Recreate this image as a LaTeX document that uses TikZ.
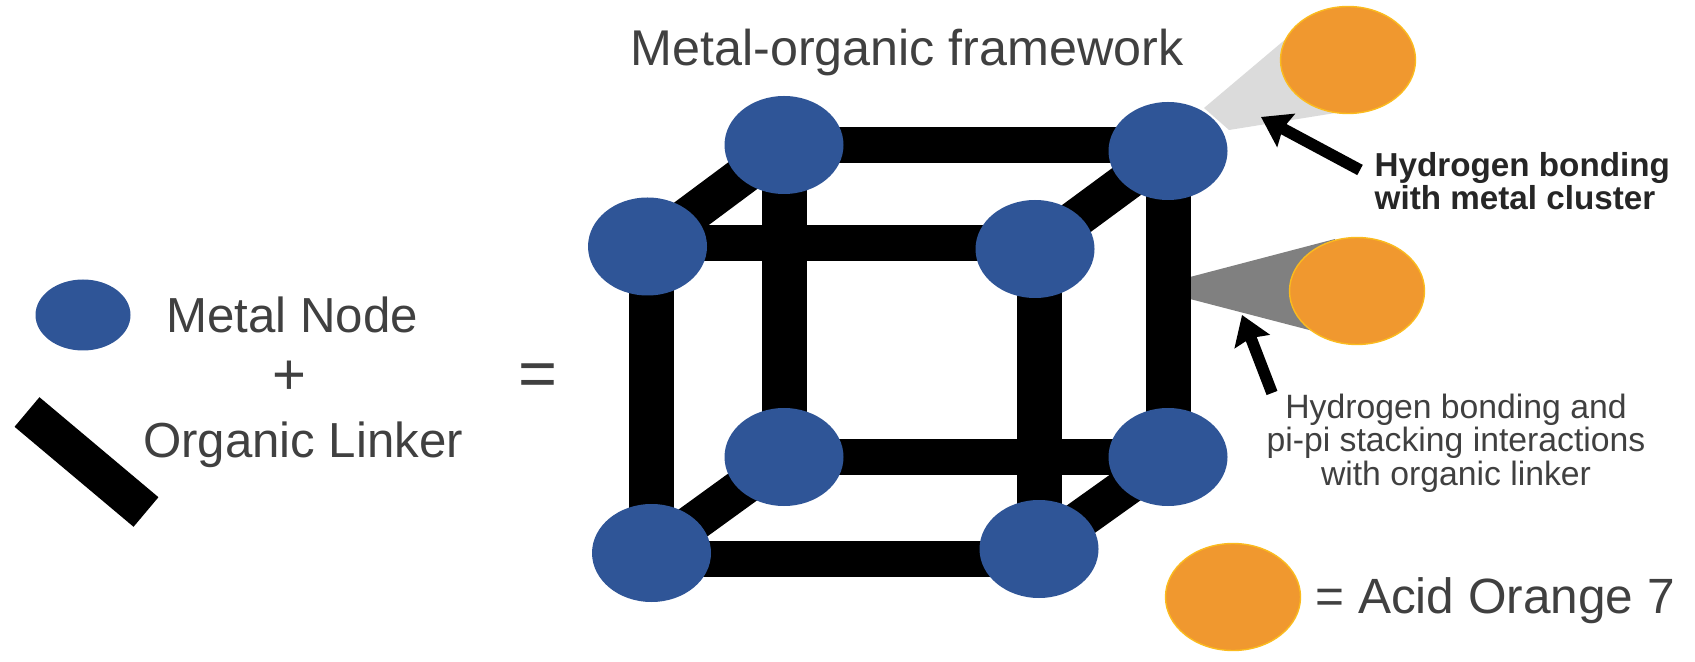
\documentclass[tikz,border=0pt]{standalone}
\usepackage{fontspec}
\setmainfont{Liberation Sans}
\usetikzlibrary{arrows.meta, backgrounds, shapes.geometric}

\definecolor{nodeblue}{HTML}{2F5597}
\definecolor{dyeorange}{HTML}{F0982F}
\definecolor{dyeedge}{HTML}{FBBB1E}
\definecolor{labelgray}{HTML}{404040}

\begin{document}
\begin{tikzpicture}[
		m/.style = {ellipse, fill=nodeblue, inner sep=0, minimum width=1.19cm, minimum height=0.98cm},
		d/.style = {ellipse, fill=dyeorange, draw=dyeedge, thin, inner sep=0, minimum width=1.35cm, minimum height=1.07cm},
		t/.style = {text=labelgray, font=\fontsize{14}{16}\selectfont},
		o/.style = {text=labelgray, font=\fontsize{19}{21}\selectfont},
		h/.style = {line width=10pt},
		v/.style = {line width=12.8pt},
		k/.style = {line width=11pt},
		p/.style = {-{Stealth[length=8pt, width=10.5pt, inset=1pt]}, line width=3.3pt}
		]
		\useasboundingbox (0, 0) rectangle (16.95, 6.61);
		
		% === === Nodes === ===
		\node[m]	(btl)	at	(7.84, 5.16)	{};
		\node[m]	(btr)	at	(11.68, 5.10)	{};
		\node[m]	(ftl)	at	(6.475, 4.145)	{};
		\node[m]	(ftr)	at	(10.35, 4.12)	{};
		\node[m]	(bbl)	at	(7.84, 2.04)	{};
		\node[m]	(bbr)	at	(11.68, 2.04)	{};
		\node[m]	(fbl)	at	(6.515, 1.08)	{};
		\node[m]	(fbr)	at	(10.39, 1.12)	{};
		
		\node[d]	(dye1)	at	(13.48, 6.01)	{};
		\node[d]	(dye2)	at	(13.57, 3.70)	{};
		\node[d]	(dye3)	at	(12.33, 0.64)	{};
		
		\node[m, minimum width=0.95cm, minimum height=0.71cm]	(metal)	at	(0.83, 3.46)	{};
		\coordinate	(link1)	at	(0.27, 2.49);
		\coordinate	(link2)	at	(1.46, 1.49);
		
		% === === Labels === ===
		\node[t]	(lmetal)	at	(2.92, 3.46)	{Metal Node};
		\node[o, font=\fontsize{16.5}{18}\selectfont]	(lplus)		at	(2.89, 2.83)	{+};
		\node[t]	(llinker)	at	(3.03, 2.16)	{Organic Linker};
		\node[o]	(lequal)	at	(5.375, 2.81)	{=};
		\node[t, font=\fontsize{14.3}{16}\selectfont]	(ltitle)	at	(9.07, 6.08)	{Metal-organic framework};
		\node[t, anchor=west, font=\fontsize{14.1}{16}\selectfont]	(lacid)	at	(13.03, 0.60)	{= Acid Orange 7};
		\node[anchor=west, align=left, font=\fontsize{9.45}{9.3}\selectfont\bfseries, text=black!85, inner sep=0]
			(lhbond)	at	(13.74, 4.80)	{Hydrogen bonding\\with metal cluster};
		\node[align=center, font=\fontsize{9.6}{9.5}\selectfont, text=labelgray, inner sep=0]
			(lstack)	at	(14.56, 2.18)	{Hydrogen bonding and\\pi-pi stacking interactions\\with organic linker};
		
		\coordinate	(from1)	at	(13.60, 4.91);
		\coordinate	(to1)	at	(12.61, 5.44);
		\coordinate	(from2)	at	(12.72, 2.68);
		\coordinate	(to2)	at	(12.42, 3.46);
		
		% === === Lines === ===
		\begin{scope}[on background layer]
			\fill[gray!28]	(12.04, 5.53) -- (13.00, 6.34) -- (13.48, 5.50) -- (12.29, 5.31) -- cycle;
			\fill[gray]		(11.90, 3.84) -- (13.35, 4.22) -- (13.40, 3.23) -- (11.90, 3.62) -- cycle;
			
			\draw[h]	(btl.center)	--	(btl.center -| btr.center);
			\draw[h]	([yshift=1pt]ftl.center)	--	([yshift=1pt]ftl.center -| ftr.center);
			\draw[h]	(bbl.center)	--	(bbr.center);
			\draw[h]	([yshift=-1.7pt]fbl.center)	--	([yshift=-1.7pt]fbl.center -| fbr.center);
			
			\draw[v]	(btl.center)	--	(bbl.center);
			\draw[v]	(btr.center)	--	(bbr.center);
			\draw[v]	(fbl.center)	--	(fbl.center |- ftl.center);
			\draw[v]	(fbr.center)	--	(fbr.center |- ftr.center);
			
			\draw[k]	(ftl.center)	--	(btl.center);
			\draw[k]	(ftr.center)	--	(btr.center);
			\draw[k]	(fbl.center)	--	(bbl.center);
			\draw[k]	(fbr.center)	--	(bbr.center);
		\end{scope}
		
		\draw[line width=11pt]	(link1)	--	(link2);
		\draw[p]	(from1)	--	(to1);
		\draw[p]	(from2)	--	(to2);
		
	\end{tikzpicture}
\end{document}
